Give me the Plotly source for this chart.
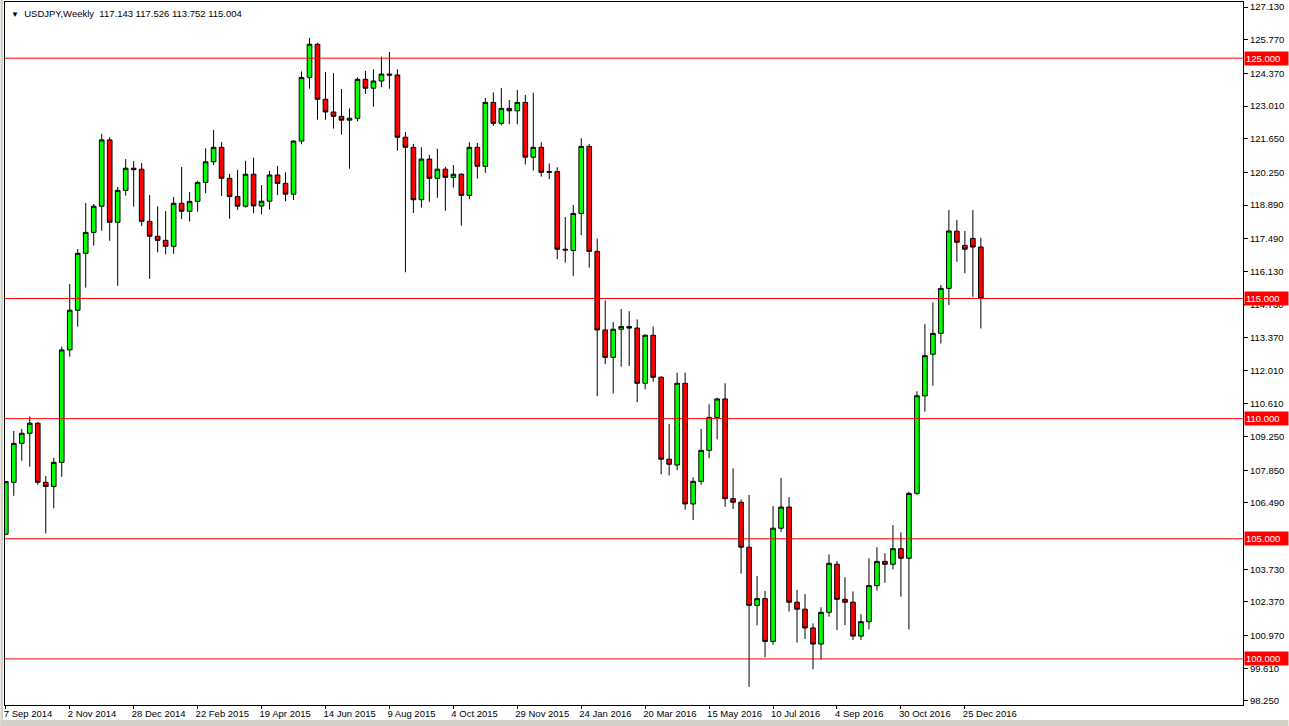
import pandas as pd
import plotly.graph_objects as go

# ---------------- data (weekly USDJPY) ----------------
start_date = "2014-09-07"

opens = [105.19, 107.35, 108.97, 109.39, 109.81, 107.35, 107.18, 108.18, 112.86, 114.51,
         116.88, 117.75, 118.84, 121.60, 118.17, 119.50, 120.42, 120.38, 118.21, 117.59,
         117.42, 117.17, 118.96, 118.63, 119.04, 119.83, 120.69, 121.29, 120.00, 119.24,
         118.84, 120.17, 118.85, 119.05, 120.14, 119.79, 119.34, 121.55, 124.20, 125.58,
         123.29, 122.76, 122.58, 122.42, 122.50, 124.12, 123.75, 124.05, 124.34, 124.30,
         121.71, 121.29, 119.11, 120.80, 120.00, 120.38, 120.04, 120.17, 119.29, 121.29,
         120.50, 123.16, 122.29, 122.91, 122.81, 123.16, 120.88, 121.29, 120.25, 120.28,
         117.05, 117.00, 118.54, 121.33, 116.96, 113.69, 112.55, 113.72, 113.83, 113.77,
         111.47, 113.47, 111.72, 108.31, 108.07, 111.47, 106.45, 107.39, 108.68, 110.05,
         110.82, 106.67, 106.52, 104.65, 102.23, 102.51, 100.73, 105.44, 106.32, 102.36,
         102.07, 101.29, 100.62, 101.94, 103.94, 102.48, 102.36, 100.95, 101.55, 103.05,
         104.06, 103.94, 104.59, 104.19, 106.89, 110.95, 112.68, 113.55, 115.42, 117.80,
         117.21, 117.50, 117.143]
highs = [107.40, 109.49, 109.57, 110.09, 109.85, 107.61, 108.37, 112.99, 115.60, 117.06,
         118.97, 118.93, 121.85, 121.71, 119.64, 120.80, 120.72, 120.64, 119.31, 118.84,
         118.64, 119.22, 120.47, 119.43, 119.90, 121.25, 122.01, 121.51, 120.18, 120.35,
         120.73, 120.86, 119.72, 120.31, 120.51, 120.25, 121.59, 124.45, 125.84, 125.64,
         124.43, 124.38, 123.72, 122.91, 124.20, 124.47, 124.54, 125.06, 125.26, 124.54,
         121.93, 121.43, 121.29, 120.97, 121.23, 120.48, 120.55, 120.21, 121.50, 121.47,
         123.34, 123.58, 123.76, 123.26, 123.68, 123.47, 123.56, 121.50, 120.62, 120.46,
         118.39, 118.89, 121.67, 121.43, 117.49, 114.91, 114.02, 114.56, 114.47, 114.13,
         113.50, 113.83, 111.77, 109.78, 111.91, 111.91, 107.56, 109.57, 110.60, 110.87,
         111.47, 107.93, 106.64, 106.82, 103.45, 102.83, 106.36, 107.53, 106.74, 102.87,
         102.70, 101.48, 102.15, 104.35, 104.08, 103.40, 102.81, 101.86, 104.19, 104.65,
         104.40, 105.57, 105.27, 106.96, 111.14, 113.93, 114.84, 115.56, 118.68, 118.27,
         117.81, 118.68, 117.526]
lows = [105.15, 106.79, 108.25, 108.00, 107.25, 105.23, 106.27, 107.58, 112.58, 113.83,
        115.45, 117.20, 117.82, 117.40, 115.53, 119.28, 118.82, 118.02, 115.82, 116.92,
        116.84, 116.86, 118.31, 118.20, 118.61, 119.38, 120.55, 119.27, 118.32, 118.69,
        118.78, 118.55, 118.50, 118.70, 119.30, 119.05, 119.10, 121.42, 123.73, 122.44,
        122.44, 122.07, 121.82, 120.40, 122.37, 123.51, 122.98, 123.79, 123.73, 121.15,
        116.09, 118.56, 118.78, 119.02, 119.19, 118.65, 119.61, 118.03, 119.13, 119.99,
        120.23, 122.18, 122.20, 122.25, 122.25, 120.58, 120.32, 120.07, 119.97, 116.64,
        116.49, 115.94, 117.64, 116.28, 110.94, 112.27, 111.05, 112.16, 112.19, 110.68,
        111.22, 111.54, 107.68, 107.64, 107.85, 106.21, 105.78, 107.25, 108.35, 109.14,
        106.33, 106.24, 103.55, 98.84, 101.40, 100.07, 100.59, 105.29, 101.97, 100.68,
        100.83, 99.57, 99.98, 101.76, 101.20, 101.41, 100.79, 100.79, 101.23, 102.84,
        103.17, 103.73, 102.59, 101.23, 106.82, 110.29, 111.37, 113.13, 114.73, 116.53,
        116.05, 115.07, 113.752]
closes = [107.38, 108.97, 109.39, 109.81, 107.35, 107.18, 108.18, 112.86, 114.51, 116.88,
          117.75, 118.84, 121.60, 118.17, 119.50, 120.42, 120.36, 118.21, 117.59, 117.42,
          117.17, 118.96, 118.63, 119.04, 119.83, 120.69, 121.29, 120.00, 119.24, 118.84,
          120.17, 118.85, 119.05, 120.14, 119.79, 119.34, 121.55, 124.20, 125.58, 123.29,
          122.76, 122.58, 122.42, 122.50, 124.12, 123.75, 124.05, 124.34, 124.30, 121.71,
          121.29, 119.11, 120.80, 120.00, 120.38, 120.04, 120.17, 119.29, 121.29, 120.50,
          123.16, 122.29, 122.91, 122.81, 123.16, 120.88, 121.29, 120.25, 120.28, 117.05,
          117.02, 118.54, 121.33, 116.96, 113.69, 112.55, 113.72, 113.83, 113.77, 111.47,
          113.47, 111.72, 108.31, 108.10, 111.47, 106.45, 107.39, 108.68, 110.05, 110.82,
          106.67, 106.52, 104.65, 102.23, 102.51, 100.73, 105.44, 106.32, 102.36, 102.07,
          101.29, 100.62, 101.94, 103.98, 102.48, 102.36, 100.95, 101.55, 103.05, 104.06,
          103.94, 104.59, 104.19, 106.89, 110.95, 112.62, 113.55, 115.42, 117.81, 117.34,
          117.05, 117.14, 115.004]

date_labels = ["7 Sep 2014", "2 Nov 2014", "28 Dec 2014", "22 Feb 2015", "19 Apr 2015",
               "14 Jun 2015", "9 Aug 2015", "4 Oct 2015", "29 Nov 2015", "24 Jan 2016",
               "20 Mar 2016", "15 May 2016", "10 Jul 2016", "4 Sep 2016", "30 Oct 2016",
               "25 Dec 2016"]

price_ticks = [127.13, 125.77, 124.37, 123.01, 121.65, 120.25, 118.89, 117.49, 116.13,
               114.73, 113.37, 112.01, 110.61, 109.25, 107.85, 106.49, 103.73,
               102.37, 100.97, 99.61, 98.25]

levels = [125.0, 115.0, 110.0, 105.0, 100.0]

symbol_title = "USDJPY,Weekly"
last_bar_text = "117.143 117.526 113.752 115.004"

# ---------------- figure ----------------
dates = pd.date_range(start=start_date, periods=len(opens), freq="7D")
week = pd.Timedelta(days=7)
tick_dates = [dates[0] + week * (8 * k) for k in range(len(date_labels))]

W, H = 1289, 726
ML, MR, MT, MB = 4.5, 45.5, 2, 21
PW, PH = W - ML - MR, H - MT - MB
FONT = "Liberation Sans, Arial, sans-serif"
FS = 9.5

fig = go.Figure()
fig.add_trace(go.Candlestick(
    x=dates, open=opens, high=highs, low=lows, close=closes,
    increasing=dict(line=dict(color="black", width=1), fillcolor="#00FF00"),
    decreasing=dict(line=dict(color="black", width=1), fillcolor="#FF0000"),
    whiskerwidth=0, showlegend=False, hoverinfo="skip",
))

for lv in levels:
    fig.add_shape(type="line", xref="paper", x0=0, x1=1, yref="y", y0=lv, y1=lv,
                  line=dict(color="#FF0000", width=1), layer="above")
    fig.add_annotation(xref="paper", x=1, yref="y", y=lv, text=f"{lv:.3f}",
                       showarrow=False, xanchor="left", yanchor="middle", xshift=0.5,
                       bgcolor="#FF0000", borderpad=1,
                       font=dict(family=FONT, size=FS, color="white"),
                       width=41, align="left")

# window frame (light grey strips at left and bottom edges)
gx0, gx1 = -ML / PW, (W - ML) / PW
gy0, gy1 = -MB / PH, (H - MT - MB + MT) / PH
fig.add_shape(type="rect", xref="paper", yref="paper", x0=gx0, x1=(2.5 - ML) / PW,
              y0=gy0, y1=gy1, fillcolor="#D4D0C8", line=dict(width=0), layer="below")
fig.add_shape(type="rect", xref="paper", yref="paper", x0=gx0, x1=gx1,
              y0=gy0, y1=(PH - (720 - MT)) / PH, fillcolor="#D4D0C8", line=dict(width=0),
              layer="below")

fig.add_annotation(xref="paper", yref="paper", x=0, y=1, xanchor="left", yanchor="top",
                   xshift=4, yshift=-4, showarrow=False,
                   text="<span style='font-size:8px'>▼</span>  " + symbol_title + "  " + last_bar_text,
                   font=dict(family=FONT, size=FS, color="black"))

x0 = dates[0] - week * 0.1
x1 = dates[0] + week * 154.8
fig.update_layout(
    width=W, height=H, margin=dict(l=ML, r=MR, t=MT, b=MB, pad=0),
    paper_bgcolor="white", plot_bgcolor="white",
    boxgap=0.42, boxgroupgap=0,
    font=dict(family=FONT, size=FS, color="black"),
    xaxis=dict(type="date", range=[x0, x1], rangeslider=dict(visible=False),
               tickvals=tick_dates, ticktext=date_labels, ticklabelposition="outside right",
               ticklabelshift=-3,
               ticks="outside", ticklen=3, tickcolor="black", showgrid=False, zeroline=False,
               showline=True, linecolor="black", linewidth=1, mirror=True,
               tickfont=dict(family=FONT, size=FS, color="black")),
    yaxis=dict(side="right", range=[98.083, 127.338], tickvals=price_ticks,
               ticktext=[f"{v:.3f}" for v in price_ticks],
               ticks="outside", ticklen=4, tickcolor="black", showgrid=False, zeroline=False,
               showline=True, linecolor="black", linewidth=1, mirror=True,
               tickfont=dict(family=FONT, size=FS, color="black")),
)

fig.write_html("out.html", config={"displayModeBar": False, "staticPlot": True},
               post_script="document.body.style.margin='0px';document.body.style.padding='0px';")
